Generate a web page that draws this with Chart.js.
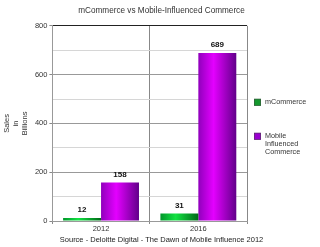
<!DOCTYPE html>
<html>
<head>
<meta charset="utf-8">
<script src="https://cdn.jsdelivr.net/npm/chart.js@4.4.0/dist/chart.umd.min.js"></script>
<style>
  html, body { margin: 0; padding: 0; background: #fff; }
  #wrap { width: 320px; height: 247px; position: relative; }
</style>
</head>
<body>
<div id="wrap"><canvas id="myChart"></canvas></div>
<script>
const years = ['2012', '2016'];
const mCommerce = [12, 31];
const mobileInfluenced = [158, 689];
const seriesNames = ['mCommerce', ['Mobile', 'Influenced', 'Commerce']];
const yTicks = [0, 200, 400, 600, 800];

const FONT = "'Liberation Sans', Arial, sans-serif";
const CAT_PCT = 0.78;

// horizontal shading on each bar, like the original
const shades = [
    ['#00962a', '#12e242', '#006818'],
    ['#9000bc', '#e400ff', '#62008a']
];
const legendColors = ['#14982e', '#9a00d0'];

function barFill(c) {
    const chart = c.chart;
    const x = chart.scales.x;
    if (!x || !x.width) return shades[c.datasetIndex][1];
    const catW = x.width / years.length;
    const barW = catW * CAT_PCT / 2;
    const left = x.getPixelForValue(c.dataIndex) - catW * CAT_PCT / 2 + c.datasetIndex * barW;
    const g = chart.ctx.createLinearGradient(left, 0, left + barW, 0);
    const s = shades[c.datasetIndex];
    g.addColorStop(0, s[0]);
    g.addColorStop(0.4, s[1]);
    g.addColorStop(1, s[2]);
    return g;
}

// values above the bars
const valueLabels = {
    id: 'valueLabels',
    afterDatasetsDraw(chart) {
        const ctx = chart.ctx;
        ctx.save();
        ctx.font = "bold 8px " + FONT;
        ctx.fillStyle = '#111';
        ctx.textAlign = 'center';
        ctx.textBaseline = 'bottom';
        chart.data.datasets.forEach((ds, i) => {
            chart.getDatasetMeta(i).data.forEach((bar, j) => {
                ctx.fillText(ds.data[j], bar.x, bar.y - 4);
            });
        });
        ctx.restore();
    }
};

// legend on the right with wrapped names, as its own layout box
// so the title and source line stay centred on the whole canvas
const sideLegend = {
    id: 'sideLegend',
    beforeInit(chart) {
        const box = {
            position: 'right',
            weight: 0,
            fullSize: false,
            options: {},
            isHorizontal() { return false; },
            update(maxW, maxH) {
                this.width = 73;
                this.height = maxH;
            },
            draw() {
                const ctx = chart.ctx;
                const area = chart.chartArea;
                const x0 = this.left + 7;
                const rows = [area.top + 73, area.top + 107];
                ctx.save();
                ctx.font = "7.2px " + FONT;
                ctx.textBaseline = 'middle';
                ctx.textAlign = 'left';
                seriesNames.forEach((name, i) => {
                    const y = rows[i];
                    ctx.fillStyle = legendColors[i];
                    ctx.fillRect(x0, y, 7, 7);
                    ctx.strokeStyle = '#444';
                    ctx.lineWidth = 0.5;
                    ctx.strokeRect(x0 + 0.25, y + 0.25, 6.5, 6.5);
                    ctx.fillStyle = '#333';
                    const lines = Array.isArray(name) ? name : [name];
                    lines.forEach((t, k) => ctx.fillText(t, x0 + 11, y + 3.5 + k * 7.6));
                });
                ctx.restore();
            }
        };
        Chart.layouts.addBox(chart, box);
    }
};

new Chart(document.getElementById('myChart'), {
    type: 'bar',
    data: {
        labels: years,
        datasets: [{
            label: 'mCommerce',
            data: mCommerce,
            backgroundColor: barFill
        },
        {
            label: 'Mobile Influenced Commerce',
            data: mobileInfluenced,
            backgroundColor: barFill
        }]
    },
    options: {
        responsive: true,
        maintainAspectRatio: false,
        animation: false,
        datasets: {
            bar: {
                categoryPercentage: CAT_PCT,
                barPercentage: 1,
                borderWidth: 0
            }
        },
        layout: {
            padding: { left: 3, right: 0, top: 0, bottom: 0 }
        },
        scales: {
            x: {
                grid: {
                    offset: true,
                    color: (c) => c.index === years.length ? '#222' : '#888',
                    lineWidth: 1,
                    drawTicks: true,
                    tickLength: 3,
                    tickColor: '#888'
                },
                border: { color: '#999' },
                ticks: {
                    color: '#333',
                    font: { family: FONT, size: 7.5 },
                    padding: 0
                }
            },
            y: {
                min: 0,
                max: 800,
                ticks: {
                    stepSize: 100,
                    color: '#333',
                    font: { family: FONT, size: 7.5 },
                    padding: 2,
                    callback: (v) => yTicks.includes(v) ? v : ''
                },
                grid: {
                    color: (c) => c.tick.value === 800 ? '#222' : (c.tick.value % 200 === 0 ? '#999' : '#d6d6d6'),
                    tickColor: (c) => c.tick.value % 200 === 0 ? '#888' : 'rgba(0,0,0,0)',
                    tickLength: 3
                },
                border: { color: '#999' },
                title: {
                    display: true,
                    text: ['Sales', 'in', 'Billions'],
                    color: '#333',
                    font: { family: FONT, size: 7.5, lineHeight: 1.15 },
                    padding: { top: 0, bottom: 4 }
                }
            }
        },
        plugins: {
            legend: { display: false },
            tooltip: { enabled: false },
            title: {
                display: true,
                text: 'mCommerce vs Mobile-Influenced Commerce',
                color: '#333',
                font: { family: FONT, size: 8.2, weight: 'normal' },
                padding: { top: 5.5, bottom: 10.5 }
            },
            subtitle: {
                display: true,
                position: 'bottom',
                text: 'Source - Deloitte Digital - The Dawn of Mobile Influence 2012',
                color: '#222',
                font: { family: FONT, size: 7.5 },
                padding: { top: 2.5, bottom: 2.5 }
            }
        }
    },
    plugins: [valueLabels, sideLegend]
});
</script>
</body>
</html>
